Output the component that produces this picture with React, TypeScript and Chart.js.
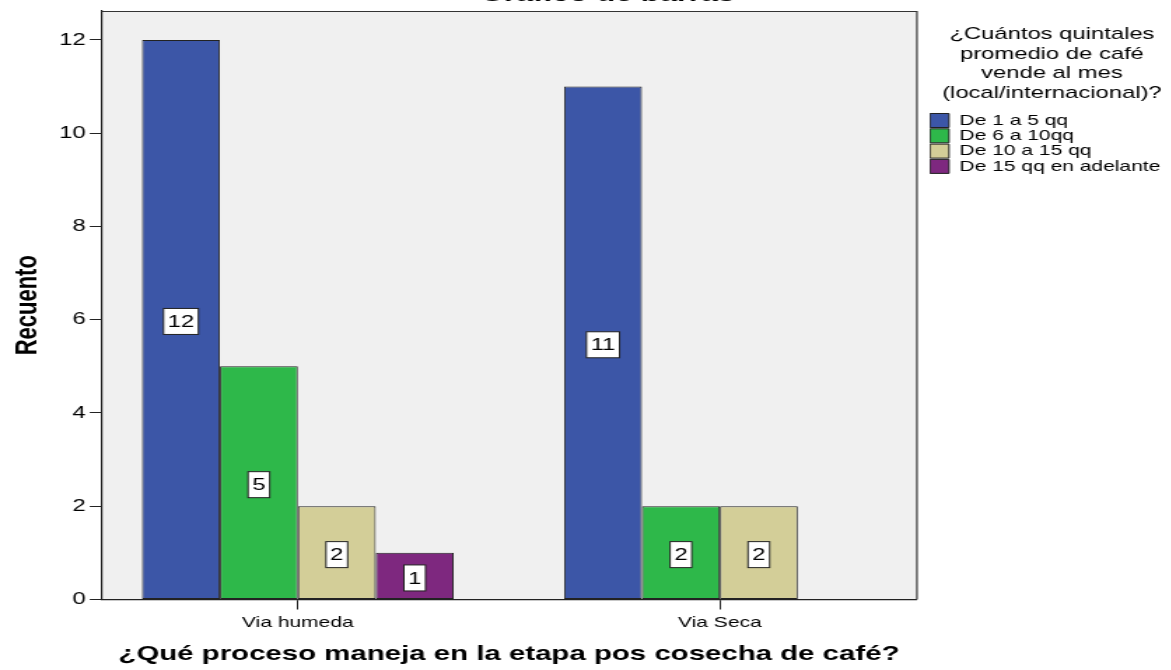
import { useEffect, useRef } from 'react';
import { Chart, registerables } from 'chart.js';

Chart.register(...registerables);

// ---- data ----
const categories = ['Via humeda', 'Via Seca'];
const seriesLabels = ['De 1 a 5 qq', 'De 6 a 10qq', 'De 10 a 15 qq', 'De 15 qq en adelante'];
const serie1a5 = [12, 11];
const serie6a10 = [5, 2];
const serie10a15 = [2, 2];
const serie15mas = [1, null];
const yTicks = [0, 2, 4, 6, 8, 10, 12];
const chartTitle = 'Gráfico de barras';
const xTitle = '¿Qué proceso maneja en la etapa pos cosecha de café?';
const yTitle = 'Recuento';
const legendTitle = ['¿Cuántos quintales', 'promedio de café', 'vende al mes', '(local/internacional)?'];

const seriesValues = [serie1a5, serie6a10, serie10a15, serie15mas];
const seriesColors = ['#3C56A7', '#2EB84A', '#D3CE98', '#7E287F'];

const FONT = "'Liberation Sans', Arial, Helvetica, sans-serif";

const bgPlugin = {
  id: 'plotBg',
  beforeDraw(chart: any) {
    const { ctx, chartArea } = chart;
    const { left, top, right, bottom } = chartArea;
    ctx.save();
    ctx.fillStyle = '#F0F0F0';
    ctx.fillRect(left, top, right - left, bottom - top);
    ctx.restore();
  },
  beforeDatasetsDraw(chart: any) {
    const { ctx, chartArea } = chart;
    const { left, top, right, bottom } = chartArea;
    ctx.save();
    ctx.strokeStyle = '#333';
    ctx.lineWidth = 1.2;
    ctx.beginPath();
    ctx.moveTo(left, Math.round(top) + 0.5);
    ctx.lineTo(right, Math.round(top) + 0.5);
    ctx.lineTo(right, bottom);
    ctx.stroke();
    ctx.restore();
  },
};

const labelPlugin = {
  id: 'valueBoxes',
  afterDatasetsDraw(chart: any) {
    const { ctx } = chart;
    ctx.save();
    ctx.font = `17px ${FONT}`;
    chart.data.datasets.forEach((ds: any, di: number) => {
      const meta = chart.getDatasetMeta(di);
      meta.data.forEach((bar: any, i: number) => {
        const v = ds.data[i] && ds.data[i].y;
        if (v === null || v === undefined || v === 0) return;
        const { x, y, base } = bar.getProps(['x', 'y', 'base'], true);
        const cy = (y + base) / 2 + 2;
        const txt = String(v);
        const tw = ctx.measureText(txt).width;
        const w = tw + 6;
        const h = 26;
        ctx.fillStyle = '#FFFFFF';
        ctx.fillRect(x - w / 2, cy - h / 2, w, h);
        ctx.strokeStyle = '#222';
        ctx.lineWidth = 1;
        ctx.strokeRect(x - w / 2, cy - h / 2, w, h);
        ctx.fillStyle = '#000';
        ctx.textAlign = 'center';
        ctx.textBaseline = 'middle';
        ctx.fillText(txt, x, cy + 1);
      });
    });
    ctx.restore();
  },
};

export default function App() {
  const ref = useRef<HTMLCanvasElement>(null);

  useEffect(() => {
    if (!ref.current) return;
    Chart.defaults.font.family = FONT;
    Chart.defaults.color = '#000';

    const datasets = seriesLabels.map((label, k) => ({
      label,
      data: seriesValues[k].map((v, i) => ({ x: i, y: v })),
      backgroundColor: seriesColors[k],
      borderColor: '#222',
      borderWidth: 1,
      borderSkipped: false,
      categoryPercentage: 0.7385,
      barPercentage: 1,
    }));

    const chart = new Chart(ref.current, {
      type: 'bar',
      data: { datasets } as any,
      plugins: [bgPlugin, labelPlugin],
      options: {
        animation: false,
        responsive: false,
        devicePixelRatio: 1,
        layout: { padding: { left: 0, right: 2, top: 0, bottom: 0 } },
        plugins: {
          title: {
            display: true,
            text: chartTitle,
            color: '#000',
            font: { size: 22, weight: 'bold', lineHeight: 1.2 },
            padding: { top: 11.7, bottom: 2.9 },
          },
          legend: {
            position: 'right',
            align: 'start',
            fullSize: false,
            title: {
              display: true,
              text: legendTitle as any,
              color: '#000',
              font: { size: 17, lineHeight: 1.147 },
              padding: { top: 15.3, bottom: 66.9 },
            },
            labels: {
              boxWidth: 13.6,
              boxHeight: 14,
              padding: 0.3,
              color: '#000',
              font: { size: 15 },
            },
          },
          tooltip: { enabled: false },
        },
        scales: {
          x: {
            type: 'linear',
            position: 'bottom',
            min: -0.4666,
            max: 1.467,
            offset: false,
            afterBuildTicks: (s: any) => {
              s.ticks = categories.map((_, i) => ({ value: i }));
            },
            afterFit: (s: any) => {
              s.height = 70.5;
            },
            grid: { offset: false, drawOnChartArea: false, drawTicks: true, tickLength: 10, color: '#222' },
            border: { display: true, color: '#222', width: 1.2 },
            ticks: {
              autoSkip: false,
              maxRotation: 0,
              padding: 4,
              color: '#000',
              font: { size: 15 },
              callback: (v: any) => categories[v] ?? '',
            },
            title: {
              display: true,
              text: xTitle,
              color: '#000',
              font: { size: 21, weight: 'bold', lineHeight: 1.2 },
              padding: { top: 0, bottom: 3 },
            },
          },
          y: {
            type: 'linear',
            position: 'left',
            min: 0,
            max: 12.62,
            afterBuildTicks: (s: any) => {
              s.ticks = yTicks.map((v) => ({ value: v }));
            },
            afterFit: (s: any) => {
              s.width = 72.1;
            },
            grid: { drawOnChartArea: false, drawTicks: true, tickLength: 8, color: '#222' },
            border: { display: true, color: '#222', width: 1.2 },
            ticks: { padding: 3, color: '#000', font: { size: 17 } },
            title: {
              display: true,
              text: yTitle,
              color: '#000',
              font: { size: 22, weight: 'bold', lineHeight: 1.2 },
              padding: { top: 6.8, bottom: 0 },
            },
          },
          gap: {
            type: 'linear',
            position: 'right',
            display: false,
            weight: 0,
            afterFit: (s: any) => {
              s.width = 9;
            },
          },
          pad: {
            type: 'linear',
            position: 'right',
            display: false,
            weight: 2000,
            afterFit: (s: any) => {
              s.width = 29.2;
            },
          },
        } as any,
      } as any,
    });
    return () => chart.destroy();
  }, []);

  return (
    <canvas
      ref={ref}
      width={870}
      height={700}
      style={{ position: 'fixed', left: 0, top: -30, width: '1218px', height: '700px' }}
    />
  );
}
